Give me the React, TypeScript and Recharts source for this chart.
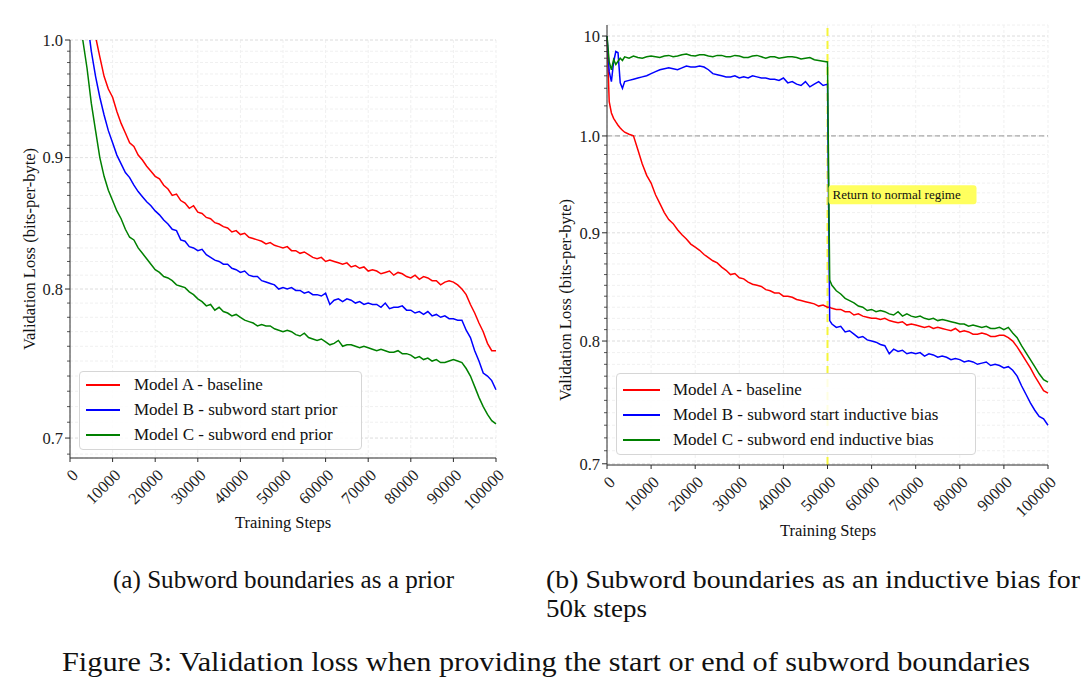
import React from "react";
import {
  LineChart,
  Line,
  XAxis,
  YAxis,
  CartesianGrid,
  Legend,
  ReferenceLine,
  ReferenceDot,
} from "recharts";

const FONT = "'Liberation Serif', 'Times New Roman', Times, serif";

// (a) subword boundaries as a prior, one value every 1000 steps
const stepsA = Array.from({ length: 101 }, (_, i) => i * 1000);
const baselineA = [
  3.5, 2.0, 1.5, 1.25, 1.12, 1.05, 1.003, 0.985, 0.968, 0.957,
  0.95, 0.938, 0.928, 0.92, 0.912, 0.909, 0.902, 0.898, 0.893, 0.889,
  0.885, 0.883, 0.878, 0.875, 0.87, 0.871, 0.866, 0.864, 0.86, 0.862,
  0.857, 0.856, 0.853, 0.852, 0.849, 0.848, 0.846, 0.845, 0.842, 0.843,
  0.84, 0.841, 0.838, 0.837, 0.836, 0.835, 0.833, 0.834, 0.832, 0.831,
  0.83, 0.831, 0.828, 0.828, 0.826, 0.827, 0.825, 0.823, 0.822, 0.823,
  0.82, 0.821, 0.82, 0.819, 0.818, 0.819, 0.816, 0.817, 0.815, 0.816,
  0.813, 0.814, 0.813, 0.811, 0.812, 0.813, 0.81, 0.812, 0.811, 0.809,
  0.808, 0.81, 0.807, 0.809, 0.808, 0.806, 0.806, 0.803, 0.805, 0.806,
  0.805, 0.803, 0.8, 0.796, 0.789, 0.783, 0.776, 0.77, 0.762, 0.757,
  0.757,
];
const startPriorA = [
  3.0, 1.7, 1.3, 1.12, 1.02, 0.99, 0.968, 0.95, 0.935, 0.922,
  0.912, 0.902, 0.895, 0.888, 0.884, 0.878, 0.873, 0.869, 0.865, 0.862,
  0.858, 0.855, 0.851, 0.848, 0.844, 0.843, 0.836, 0.835, 0.831, 0.83,
  0.828, 0.829, 0.825, 0.823, 0.821, 0.82, 0.818, 0.818, 0.815, 0.814,
  0.812, 0.813, 0.81, 0.809, 0.809, 0.806, 0.805, 0.804, 0.803, 0.8,
  0.801, 0.8, 0.801, 0.799, 0.799, 0.797, 0.798, 0.796, 0.796, 0.795,
  0.797, 0.789, 0.792, 0.793, 0.791, 0.793, 0.792, 0.79, 0.791, 0.789,
  0.79, 0.789, 0.789, 0.787, 0.79, 0.786, 0.787, 0.787, 0.788, 0.785,
  0.785, 0.783, 0.784, 0.782, 0.784, 0.781, 0.782, 0.78, 0.781, 0.779,
  0.779, 0.778, 0.778, 0.771, 0.766, 0.757, 0.75, 0.742, 0.74, 0.737,
  0.731,
];
const endPriorA = [
  2.5, 1.4, 1.08, 1.0, 0.975, 0.945, 0.922, 0.9, 0.885, 0.874,
  0.866, 0.858, 0.852, 0.844, 0.838, 0.836, 0.83, 0.826, 0.822, 0.818,
  0.814, 0.812, 0.809, 0.808, 0.806, 0.803, 0.802, 0.801, 0.798, 0.796,
  0.793, 0.791, 0.788, 0.789, 0.785, 0.787, 0.784, 0.783, 0.781, 0.782,
  0.78, 0.778, 0.777, 0.776, 0.774, 0.775, 0.774, 0.774, 0.772, 0.771,
  0.77, 0.771, 0.77, 0.768, 0.767, 0.769, 0.766, 0.765, 0.764, 0.765,
  0.763, 0.761, 0.762, 0.764, 0.76, 0.761, 0.761, 0.76, 0.759, 0.76,
  0.759, 0.758, 0.757, 0.758, 0.757, 0.756, 0.756, 0.757, 0.755, 0.755,
  0.754, 0.752, 0.753, 0.751, 0.752, 0.75, 0.751, 0.749, 0.749, 0.75,
  0.751, 0.75, 0.749, 0.745, 0.74, 0.733, 0.726, 0.72, 0.715, 0.711,
  0.709,
];

// (b) subword boundaries as an inductive bias for 50k steps
const stepsB = [
  0, 500, 1000, 1500, 2000, 2500, 3000, 3500, 4000,
  ...Array.from({ length: 46 }, (_, i) => 5000 + i * 1000),
  50500,
  ...Array.from({ length: 50 }, (_, i) => 51000 + i * 1000),
];
const baselineB = [
  10, 2.2, 1.7, 1.5, 1.38, 1.28, 1.2, 1.14, 1.09,
  1.04, 1.005, 0.985, 0.97, 0.958, 0.95, 0.938, 0.929, 0.92, 0.913,
  0.909, 0.903, 0.898, 0.894, 0.889, 0.886, 0.883, 0.879, 0.876, 0.873,
  0.871, 0.867, 0.864, 0.86, 0.861, 0.857, 0.856, 0.853, 0.851, 0.85,
  0.849, 0.846, 0.845, 0.843, 0.843, 0.84, 0.84, 0.839, 0.837, 0.836,
  0.835, 0.834, 0.833, 0.831, 0.832, 0.83,
  0.83,
  0.829, 0.828, 0.828, 0.826, 0.826, 0.823, 0.824, 0.822, 0.821, 0.82,
  0.82, 0.819, 0.82, 0.818, 0.817, 0.816, 0.817, 0.814, 0.815, 0.814,
  0.813, 0.812, 0.813, 0.811, 0.812, 0.811, 0.81, 0.809, 0.811, 0.808,
  0.809, 0.808, 0.806, 0.806, 0.807, 0.806, 0.804, 0.804, 0.805, 0.805,
  0.803, 0.8, 0.795, 0.789, 0.783, 0.777, 0.77, 0.764, 0.758, 0.756,
];
const startBiasB = [
  10, 4.4, 3.5, 5.5, 7.0, 6.8, 3.4, 3.0, 3.5,
  3.6, 3.7, 3.8, 3.9, 4.0, 4.2, 4.4, 4.6, 4.7, 4.8,
  4.7, 4.6, 4.8, 5.0, 4.9, 4.9, 5.0, 4.9, 4.6, 4.2,
  4.1, 4.0, 3.9, 3.9, 4.0, 3.8, 3.9, 3.8, 4.0, 3.9,
  3.8, 3.8, 3.7, 3.7, 3.6, 3.8, 3.4, 3.5, 3.3, 3.2,
  3.5, 3.1, 3.3, 3.5, 3.2, 3.3,
  0.818,
  0.815, 0.812, 0.813, 0.808, 0.809, 0.806, 0.803, 0.804, 0.801, 0.8,
  0.799, 0.797, 0.796, 0.789, 0.793, 0.791, 0.792, 0.789, 0.79, 0.789,
  0.79, 0.787, 0.789, 0.788, 0.786, 0.787, 0.786, 0.784, 0.785, 0.784,
  0.782, 0.783, 0.782, 0.78, 0.781, 0.782, 0.779, 0.78, 0.779, 0.777,
  0.778, 0.775, 0.77, 0.762, 0.755, 0.748, 0.742, 0.737, 0.735, 0.73,
];
const endBiasB = [
  10, 5.5, 4.6, 5.8, 5.2, 5.6, 6.0, 5.7, 6.2,
  6.0, 6.3, 6.1, 6.0, 6.2, 6.3, 6.2, 6.1, 6.3, 6.4,
  6.2, 6.3, 6.5, 6.6, 6.4, 6.3, 6.5, 6.5, 6.3, 6.2,
  6.4, 6.4, 6.2, 6.2, 6.4, 6.3, 6.1, 6.1, 6.3, 6.4,
  6.2, 6.0, 6.2, 6.2, 6.0, 6.1, 6.2, 6.2, 6.1, 5.9,
  6.0, 6.1, 5.8, 5.7, 5.6, 5.5,
  0.855,
  0.85, 0.845, 0.842, 0.838, 0.836, 0.834, 0.831, 0.83, 0.827, 0.828,
  0.826, 0.827, 0.826, 0.824, 0.823, 0.826, 0.822, 0.824, 0.822, 0.821,
  0.822, 0.82, 0.819, 0.82, 0.818, 0.819, 0.818, 0.817, 0.816, 0.815,
  0.815, 0.813, 0.814, 0.813, 0.812, 0.813, 0.811, 0.811, 0.812, 0.81,
  0.812, 0.807, 0.803, 0.796, 0.79, 0.784, 0.778, 0.772, 0.767, 0.765,
];

const xTicks = [0, 10000, 20000, 30000, 40000, 50000, 60000, 70000, 80000, 90000, 100000];
const yMajorA = [0.7, 0.8, 0.9, 1.0];
const yMinorA = [
  0.69, 0.71, 0.72, 0.73, 0.74, 0.75, 0.76, 0.77, 0.78, 0.79, 0.81, 0.82, 0.83, 0.84, 0.85,
  0.86, 0.87, 0.88, 0.89, 0.91, 0.92, 0.93, 0.94, 0.95, 0.96, 0.97, 0.98, 0.99,
];
const yMajorB = [0.7, 0.8, 0.9, 1.0, 10];
const yMinorB = [
  0.71, 0.72, 0.73, 0.74, 0.75, 0.76, 0.77, 0.78, 0.79, 0.81, 0.82, 0.83, 0.84, 0.85, 0.86,
  0.87, 0.88, 0.89, 0.91, 0.92, 0.93, 0.94, 0.95, 0.96, 0.97, 0.98, 0.99, 2, 3, 4, 5, 6, 7,
  8, 9,
];
const labelsB = ["0.7", "0.8", "0.9", "1.0", "10"];

// the right panel squeezes everything above 1.0 (log scale with a compressed upper part)
const UPPER = 0.0472;
const fwd = (v: number) => (v <= 1 ? Math.log(v) : Math.log(v) * UPPER);

const rowsA = stepsA.map((s, i) => ({
  step: s,
  a: baselineA[i],
  b: startPriorA[i],
  c: endPriorA[i],
}));
const rowsB = stepsB.map((s, i) => ({
  step: s,
  a: fwd(baselineB[i]),
  b: fwd(startBiasB[i]),
  c: fwd(endBiasB[i]),
}));

const RED = "#ff0000";
const BLUE = "#0000ff";
const GREEN = "#008000";
const AXIS = "#2b2b2b";

function XTick({ x, y, payload }: any) {
  return (
    <g>
      <line x1={x} x2={x} y1={y} y2={y + 4} stroke={AXIS} />
      <text
        transform={`translate(${x + 5},${y + 14}) rotate(-45)`}
        textAnchor="end"
        dy="0.35em"
        fontSize={16.5}
        fontFamily={FONT}
        fill="#222"
      >
        {payload.value}
      </text>
    </g>
  );
}

function makeYTick(majors: number[], label: (v: number, i: number) => string) {
  return function YTick({ x, y, payload }: any) {
    const idx = majors.findIndex((m) => Math.abs(m - payload.value) < 1e-9);
    const major = idx >= 0;
    return (
      <g>
        <line x1={x - (major ? 5 : 3)} x2={x} y1={y} y2={y} stroke={AXIS} strokeWidth={major ? 1 : 0.8} />
        {major && (
          <text x={x - 7} y={y} dy="0.35em" textAnchor="end" fontSize={16.5} fontFamily={FONT} fill="#222">
            {label(payload.value, idx)}
          </text>
        )}
      </g>
    );
  };
}

const YTickA = makeYTick(yMajorA, (v) => v.toFixed(1));
const majorsB = yMajorB.map(fwd);
const YTickB = makeYTick(majorsB, (_v, i) => labelsB[i]);

function legendBox(lineW: number, textX: number, firstY: number) {
  return function LegendBox({ payload }: any) {
    return (
      <div
        style={{
          position: "relative",
          width: "100%",
          height: "100%",
          boxSizing: "border-box",
          border: "1px solid #d6d6d6",
          borderRadius: 4,
          background: "rgba(255,255,255,0.85)",
          fontFamily: FONT,
          fontSize: 17,
          color: "#111",
        }}
      >
        {(payload || []).map((p: any, i: number) => (
          <div
            key={p.value}
            style={{ position: "absolute", left: 0, top: firstY + i * 25 - 12, height: 24, width: "100%" }}
          >
            <div
              style={{
                position: "absolute",
                left: 6,
                top: 11,
                width: lineW,
                height: 2,
                background: p.color,
              }}
            />
            <div style={{ position: "absolute", left: textX, top: 1, whiteSpace: "nowrap", lineHeight: "22px" }}>
              {p.value}
            </div>
          </div>
        ))}
      </div>
    );
  };
}

function Annotation({ viewBox }: any) {
  const x = viewBox.x;
  const y = viewBox.y;
  return (
    <g>
      <rect x={x + 1} y={y - 9.5} width={148} height={19} rx={3} fill="#ffff4d" fillOpacity={0.9} />
      <text x={x + 5} y={y} dy="0.35em" fontSize={13} fontFamily={FONT} fill="#111">
        Return to normal regime
      </text>
    </g>
  );
}

function PanelA() {
  return (
    <LineChart
      width={520}
      height={540}
      data={rowsA}
      margin={{ top: 40, right: 24, bottom: 32, left: 10 }}
      style={{ position: "absolute", left: 0, top: 0 }}
    >
      <CartesianGrid stroke="#f0f0f0" strokeDasharray="3 2" />
      {yMajorA.map((v) => (
        <ReferenceLine key={v} y={v} stroke="#e4e4e4" strokeDasharray="3 2" />
      ))}
      <XAxis
        dataKey="step"
        type="number"
        domain={[0, 100000]}
        ticks={xTicks}
        interval={0}
        height={50}
        tickSize={0}
        tickMargin={0}
        tick={XTick}
        axisLine={{ stroke: AXIS }}
      />
      <XAxis xAxisId="top" orientation="top" type="number" domain={[0, 100000]} height={0} tick={false} tickLine={false} axisLine={{ stroke: AXIS }} />
      <YAxis
        type="number"
        scale="log"
        domain={[0.6876, 1.0]}
        allowDataOverflow
        ticks={[...yMajorA, ...yMinorA]}
        interval={0}
        width={60}
        tickSize={0}
        tickMargin={0}
        tick={YTickA}
        axisLine={{ stroke: AXIS }}
      />
      <YAxis yAxisId="right" orientation="right" width={0} tick={false} tickLine={false} axisLine={{ stroke: AXIS }} />
      <Line dataKey="a" name="Model A - baseline" stroke={RED} strokeWidth={1.5} dot={false} isAnimationActive={false} />
      <Line dataKey="b" name="Model B - subword start prior" stroke={BLUE} strokeWidth={1.5} dot={false} isAnimationActive={false} />
      <Line dataKey="c" name="Model C - subword end prior" stroke={GREEN} strokeWidth={1.5} dot={false} isAnimationActive={false} />
      <Legend
        layout="horizontal"
        verticalAlign="middle"
        align="center"
        content={legendBox(34, 54, 13)}
        wrapperStyle={{ left: 79, top: 371, width: 283, height: 79 }}
      />
    </LineChart>
  );
}

function PanelB() {
  return (
    <LineChart
      width={540}
      height={550}
      data={rowsB}
      margin={{ top: 25, right: 32, bottom: 35, left: 7 }}
      style={{ position: "absolute", left: 540, top: 0 }}
    >
      <CartesianGrid stroke="#f0f0f0" strokeDasharray="3 2" />
      {majorsB.map((v) => (
        <ReferenceLine key={v} y={v} stroke="#e4e4e4" strokeDasharray="3 2" />
      ))}
      <ReferenceLine y={fwd(1)} stroke="#aaaaaa" strokeWidth={1.2} strokeDasharray="5 3" />
      <ReferenceLine x={50000} stroke="#f5f53a" strokeWidth={2} strokeDasharray="8 5" />
      <XAxis
        dataKey="step"
        type="number"
        domain={[0, 100000]}
        ticks={xTicks}
        interval={0}
        height={50}
        tickSize={0}
        tickMargin={0}
        tick={XTick}
        axisLine={{ stroke: AXIS }}
      />
      <XAxis xAxisId="top" orientation="top" type="number" domain={[0, 100000]} height={0} tick={false} tickLine={false} axisLine={{ stroke: AXIS }} />
      <YAxis
        type="number"
        domain={[-0.358, 0.1207]}
        allowDataOverflow
        ticks={[...majorsB, ...yMinorB.map(fwd)]}
        interval={0}
        width={60}
        tickSize={0}
        tickMargin={0}
        tick={YTickB}
        axisLine={{ stroke: AXIS }}
      />
      <YAxis yAxisId="right" orientation="right" width={0} tick={false} tickLine={false} axisLine={{ stroke: "#888", strokeWidth: 2 }} />
      <Line dataKey="a" name="Model A - baseline" stroke={RED} strokeWidth={1.5} dot={false} isAnimationActive={false} />
      <Line dataKey="b" name="Model B - subword start inductive bias" stroke={BLUE} strokeWidth={1.5} dot={false} isAnimationActive={false} />
      <Line dataKey="c" name="Model C - subword end inductive bias" stroke={GREEN} strokeWidth={1.5} dot={false} isAnimationActive={false} />
      <ReferenceDot x={50000} y={fwd(0.938)} r={0} fill="none" stroke="none" label={{ content: Annotation }} />
      <Legend
        layout="horizontal"
        verticalAlign="middle"
        align="center"
        content={legendBox(37, 56, 16)}
        wrapperStyle={{ left: 76, top: 373, width: 360, height: 82 }}
      />
    </LineChart>
  );
}

export default function App() {
  return (
    <div style={{ position: "relative", width: 1092, height: 696, background: "#fff", overflow: "hidden" }}>
      <style>{"body{margin:0;background:#fff}"}</style>
      <PanelA />
      <PanelB />
      <svg width={1092} height={696} style={{ position: "absolute", left: 0, top: 0, pointerEvents: "none" }} fontFamily={FONT} fill="#111">
        <text transform="translate(29,249) rotate(-90)" textAnchor="middle" dy="0.35em" fontSize={16.5}>
          Validation Loss (bits-per-byte)
        </text>
        <text transform="translate(565,300) rotate(-90)" textAnchor="middle" dy="0.35em" fontSize={16.5}>
          Validation Loss (bits-per-byte)
        </text>
        <text x={283} y={528} textAnchor="middle" fontSize={16.5}>
          Training Steps
        </text>
        <text x={828} y={536} textAnchor="middle" fontSize={16.5}>
          Training Steps
        </text>
        <text x={113} y={588} fontSize={26} textLength={341} lengthAdjust="spacingAndGlyphs">
          (a) Subword boundaries as a prior
        </text>
        <text x={546} y={588} fontSize={26} textLength={534} lengthAdjust="spacingAndGlyphs">
          (b) Subword boundaries as an inductive bias for
        </text>
        <text x={546} y={617} fontSize={26} textLength={101} lengthAdjust="spacingAndGlyphs">
          50k steps
        </text>
        <text x={62} y={671} fontSize={27} textLength={968} lengthAdjust="spacingAndGlyphs">
          Figure 3: Validation loss when providing the start or end of subword boundaries
        </text>
      </svg>
    </div>
  );
}
